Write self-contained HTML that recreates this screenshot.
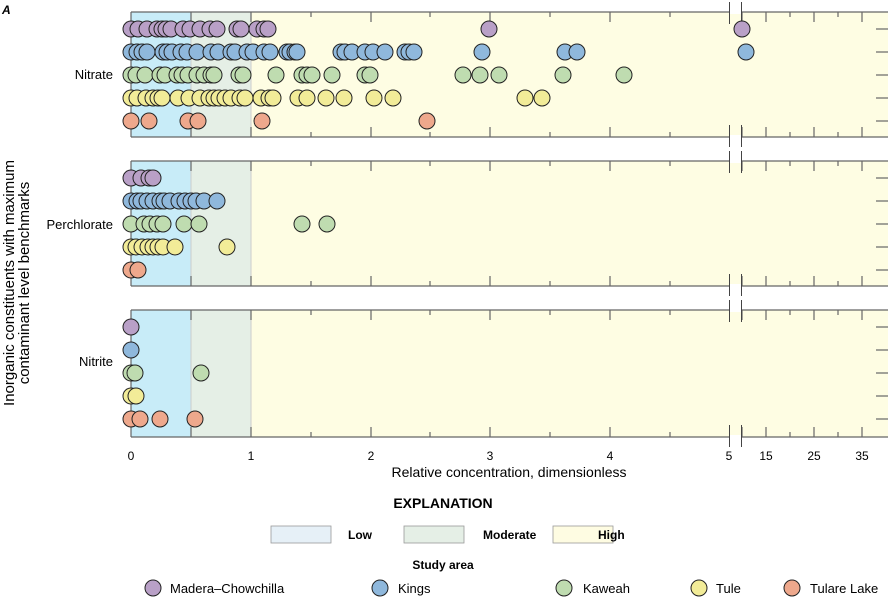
<!DOCTYPE html><html><head><meta charset="utf-8"><style>body{margin:0;background:#fff}svg{display:block;font-family:"Liberation Sans Narrow","Liberation Sans",sans-serif}</style></head><body>
<svg id="s" width="888" height="597" xmlns="http://www.w3.org/2000/svg">
<text x="2" y="14" font-size="12" font-weight="bold" font-style="italic">A</text>
<g id="g"></g>
<text transform="translate(14,283) rotate(-90)" font-size="15" text-anchor="middle">Inorganic constituents with maximum</text>
<text transform="translate(29,283) rotate(-90)" font-size="15" text-anchor="middle">contaminant level benchmarks</text>
<text x="113" y="79" font-size="13" text-anchor="end">Nitrate</text>
<text x="113" y="229" font-size="13" text-anchor="end">Perchlorate</text>
<text x="113" y="366" font-size="13" text-anchor="end">Nitrite</text>
<g font-size="12" text-anchor="middle">
<text x="131" y="460">0</text><text x="251" y="460">1</text><text x="371" y="460">2</text><text x="490" y="460">3</text><text x="610" y="460">4</text><text x="729" y="460">5</text><text x="766" y="460">15</text><text x="814" y="460">25</text><text x="862" y="460">35</text>
<text x="509" y="477" font-size="14">Relative concentration, dimensionless</text>
<text x="443" y="508" font-size="14" font-weight="bold">EXPLANATION</text>
<text x="443" y="569" font-size="12" font-weight="bold">Study area</text>
</g>
<rect x="271" y="526" width="60" height="17" fill="#e6f0f7" stroke="#999" stroke-width="0.8"/><text x="348" y="539" font-size="12" font-weight="bold">Low</text>
<rect x="404" y="526" width="60" height="17" fill="#e5efe6" stroke="#999" stroke-width="0.8"/><text x="483" y="539" font-size="12" font-weight="bold">Moderate</text>
<rect x="553" y="526" width="60" height="17" fill="#fefce2" stroke="#999" stroke-width="0.8"/><text x="598" y="539" font-size="12" font-weight="bold">High</text>
<g stroke="#222" stroke-width="1">
<circle cx="153" cy="588" r="8" fill="#b9a0c7"/><circle cx="380" cy="588" r="8" fill="#8fb8dc"/><circle cx="564" cy="588" r="8" fill="#bfdcb0"/><circle cx="699" cy="588" r="8" fill="#f2ec98"/><circle cx="792" cy="588" r="8" fill="#eea88c"/></g>
<g font-size="13"><text x="170" y="593">Madera–Chowchilla</text><text x="398" y="593">Kings</text><text x="583" y="593">Kaweah</text><text x="716" y="593">Tule</text><text x="810" y="593">Tulare Lake</text></g>
</svg>
<script>
var g=document.getElementById('g'),h='';
var C=['#b9a0c7','#8fb8dc','#bfdcb0','#f2ec98','#eea88c'];
var P=[[12,137],[161,286],[310,437]];
var D=[
[[131,138,147,157,162,166,171,183,190,200,210,217,237,241,257,264,268,489,742],
 [131,137,142,147,163,167,172,181,187,197,211,218,231,235,247,253,264,270,287,290,295,297,341,345,352,365,373,385,405,409,414,482,565,577,746],
 [131,136,145,160,165,177,182,188,197,204,211,214,239,243,276,302,307,312,332,365,370,463,480,499,563,624],
 [131,137,146,153,158,162,178,189,200,209,214,219,225,231,240,245,261,269,273,298,307,326,344,374,393,525,542],
 [131,149,188,198,262,427]],
[[131,141,149,153],[131,137,141,147,153,160,164,170,179,185,191,196,204,217],[131,144,150,157,163,184,199,302,327],[131,136,142,148,153,158,163,175,227],[131,138]],
[[131],[131],[131,135,201],[131,136],[131,140,160,195]]];
P.forEach(function(p,i){var t=p[0],b=p[1];
h+='<rect x="131" y="'+t+'" width="60" height="'+(b-t)+'" fill="#c8ecf8"/><rect x="191" y="'+t+'" width="60" height="'+(b-t)+'" fill="#e5efe6"/><rect x="251" y="'+t+'" width="637" height="'+(b-t)+'" fill="#fefde3"/>';
h+='<line x1="191" y1="'+t+'" x2="191" y2="'+b+'" stroke="#ccc"/><line x1="251" y1="'+t+'" x2="251" y2="'+b+'" stroke="#ccc"/>';
h+='<g stroke="#666" stroke-width="1.2" fill="none"><line x1="131" y1="'+t+'" x2="888" y2="'+t+'"/><line x1="131" y1="'+b+'" x2="888" y2="'+b+'"/><line x1="131" y1="'+t+'" x2="131" y2="'+b+'"/>';
[191,251,311,371,430,490,550,610,670,742,766,790,814,838,862].forEach(function(x){var L=(x==311||x==430||x==550||x==670||x==790||x==838)?5:10;h+='<line x1="'+x+'" y1="'+t+'" x2="'+x+'" y2="'+(t+L)+'"/><line x1="'+x+'" y1="'+b+'" x2="'+x+'" y2="'+(b-L)+'"/>';});
for(var r=0;r<5;r++){var y=t+17+r*23;h+='<line x1="876" y1="'+y+'" x2="888" y2="'+y+'"/>';}
h+='</g><rect x="730" y="'+(t-2)+'" width="11" height="4" fill="#fff"/><rect x="730" y="'+(b-2)+'" width="11" height="4" fill="#fff"/>';
h+='<g stroke="#444" stroke-width="1"><line x1="729.5" y1="'+(t-10)+'" x2="729.5" y2="'+(t+12)+'"/><line x1="741.5" y1="'+(t-10)+'" x2="741.5" y2="'+(t+12)+'"/><line x1="729.5" y1="'+(b-12)+'" x2="729.5" y2="'+(b+10)+'"/><line x1="741.5" y1="'+(b-12)+'" x2="741.5" y2="'+(b+10)+'"/></g>';
D[i].forEach(function(row,r){var y=t+17+r*23;row.forEach(function(x){h+='<circle cx="'+x+'" cy="'+y+'" r="8" fill="'+C[r]+'" stroke="#222" stroke-width="1"/>';});});
});
g.innerHTML=h;
</script>
</body></html>
